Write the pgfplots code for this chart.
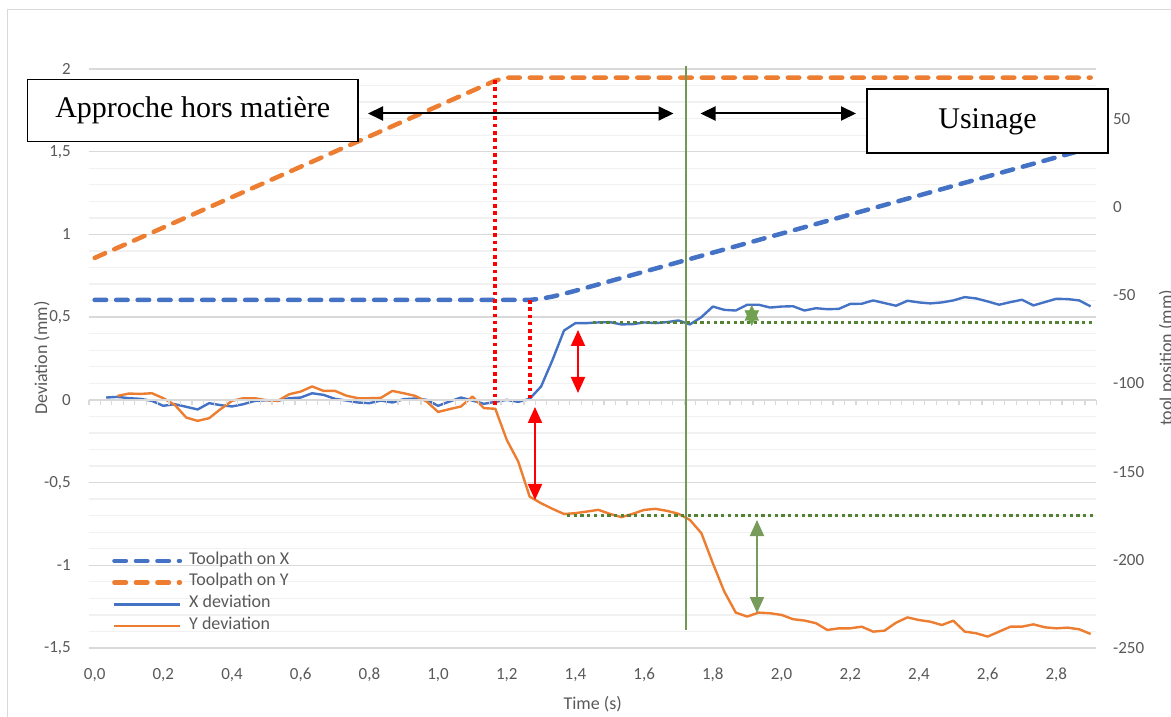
\documentclass[border=0pt]{standalone}
\usepackage{fontspec}
\setmainfont{Carlito}
\newfontfamily\boxfont{Liberation Serif}
\usepackage{pgfplots}
\usepackage{pgfplotstable}
\pgfplotsset{compat=1.18}
\usetikzlibrary{arrows.meta}

\definecolor{xblue}{RGB}{68,114,196}
\definecolor{yorange}{RGB}{237,125,49}
\definecolor{gridmaj}{RGB}{217,217,217}
\definecolor{gridmin}{RGB}{241,241,241}
\definecolor{txtgray}{RGB}{89,89,89}
\definecolor{vgreen}{RGB}{112,153,82}
\definecolor{dgreen}{RGB}{84,130,53}
\definecolor{agreen}{RGB}{118,155,90}
\definecolor{sgreen}{RGB}{112,160,80}

% category index c (time = c/30 s), deviation in mm
\pgfplotstableread{
c v
1 0.014
2 0.018
3 0.010
4 0.006
5 -0.006
6 -0.036
7 -0.026
8 -0.042
9 -0.058
10 -0.020
11 -0.032
12 -0.040
13 -0.026
14 -0.006
15 -0.002
16 -0.006
17 0.010
18 0.014
19 0.040
20 0.030
21 0.006
22 -0.004
23 -0.016
24 -0.020
25 -0.004
26 -0.016
27 0.004
28 0.008
29 0.000
30 -0.036
31 -0.010
32 0.014
33 -0.004
34 -0.024
35 -0.012
36 0.000
37 -0.012
38 0.006
39 0.081
40 0.242
41 0.419
42 0.464
43 0.464
44 0.468
45 0.470
46 0.456
47 0.458
48 0.468
49 0.464
50 0.470
51 0.480
52 0.456
53 0.500
54 0.564
55 0.544
56 0.540
57 0.575
58 0.575
59 0.558
60 0.564
61 0.566
62 0.540
63 0.554
64 0.548
65 0.550
66 0.580
67 0.581
68 0.601
69 0.585
70 0.569
71 0.599
72 0.589
73 0.583
74 0.589
75 0.601
76 0.621
77 0.613
78 0.595
79 0.575
80 0.591
81 0.605
82 0.571
83 0.591
84 0.611
85 0.609
86 0.601
87 0.565
}\xdev

\pgfplotstableread{
c v
2 0.024
3 0.038
4 0.036
5 0.040
6 0.010
7 -0.030
8 -0.107
9 -0.127
10 -0.111
11 -0.056
12 -0.006
13 0.010
14 0.010
15 -0.002
16 -0.006
17 0.034
18 0.050
19 0.081
20 0.054
21 0.054
22 0.025
23 0.010
24 0.010
25 0.012
26 0.054
27 0.040
28 0.024
29 -0.010
30 -0.073
31 -0.056
32 -0.040
33 0.020
34 -0.050
35 -0.054
36 -0.242
37 -0.373
38 -0.585
39 -0.625
40 -0.659
41 -0.690
42 -0.685
43 -0.675
44 -0.665
45 -0.689
46 -0.709
47 -0.689
48 -0.665
49 -0.659
50 -0.671
51 -0.689
52 -0.726
53 -0.806
54 -0.988
55 -1.159
56 -1.286
57 -1.310
58 -1.286
59 -1.290
60 -1.300
61 -1.326
62 -1.334
63 -1.350
64 -1.391
65 -1.381
66 -1.381
67 -1.371
68 -1.401
69 -1.395
70 -1.347
71 -1.315
72 -1.331
73 -1.341
74 -1.361
75 -1.335
76 -1.401
77 -1.411
78 -1.431
79 -1.401
80 -1.371
81 -1.371
82 -1.357
83 -1.375
84 -1.381
85 -1.377
86 -1.387
87 -1.415
}\ydev

\pgfplotstableread{
c p
0 -52.7
38 -52.7
39 -52.0
40 -50.8
41 -49.2
42 -47.5
87 33.5
}\xpath

\pgfplotstableread{
c p
0 -28.9
35 71.6
36 73.3
87 73.3
}\ypath

\begin{document}
\begin{tikzpicture}
\pgfplotsset{myaxis/.style={at={(88.9pt,68pt)}, anchor=south west, scale only axis,
  width=1007.6pt, height=579pt, xmin=-0.5, xmax=87.5}}

% main (left) axis
\begin{axis}[myaxis, ymin=-1.5, ymax=2,
  axis line style={draw=none},
  major tick length=0pt, minor tick length=0pt,
  tick style={draw=none},
  xtick={0,6,...,84},
  xticklabels={{0,0},{0,2},{0,4},{0,6},{0,8},{1,0},{1,2},{1,4},{1,6},{1,8},{2,0},{2,2},{2,4},{2,6},{2,8}},
  ytick={-1.5,-1,...,2},
  yticklabels={{-1,5},{-1},{-0,5},{0},{0,5},{1},{1,5},{2}},
  minor y tick num=4,
  ymajorgrids, yminorgrids,
  major grid style={draw=gridmaj, line width=1.3pt},
  minor grid style={draw=gridmin, line width=1.3pt},
  ticklabel style={font=\fontsize{17}{20}\selectfont, text=txtgray, inner sep=0pt},
  xticklabel style={anchor=base, yshift=-31pt},
  yticklabel style={anchor=east, xshift=-17.9pt},
]
\addplot[xblue, line width=2.4pt, line join=round] table[x=c, y=v] {\xdev};
\addplot[yorange, line width=2.4pt, line join=round] table[x=c, y=v] {\ydev};
\addplot[only marks, mark=triangle*, mark size=8pt, sgreen, mark options={yscale=1.25}, forget plot] coordinates {(57.4,0.51)};
\addplot[only marks, mark=triangle*, mark size=8pt, sgreen, mark options={yscale=1.25, rotate=180}, forget plot] coordinates {(57.4,0.51)};
\end{axis}

% horizontal axis line at zero with category tick marks
\begin{axis}[myaxis, ymin=-1.5, ymax=2,
  axis x line*=middle, axis y line=none,
  xtick={-0.5,0.5,...,87.5}, xticklabels={},
  tick align=outside, major tick length=5pt,
  x axis line style={draw=gridmaj, line width=1.3pt},
  xtick style={draw=gridmaj, line width=1.2pt},
]
\end{axis}

% secondary (right) axis: tool position
\begin{axis}[myaxis, ymin=-250, ymax=78.2,
  axis y line*=right, axis x line=none,
  y axis line style={draw=none},
  ytick style={draw=none}, major tick length=0pt,
  ytick={-250,-200,...,50},
  yticklabels={{-250},{-200},{-150},{-100},{-50},{0},{50}},
  yticklabel style={font=\fontsize{17}{20}\selectfont, text=txtgray, inner sep=0pt, anchor=west, xshift=16.5pt},
  legend style={draw=none, fill=none, at={(0.0229,0.1675)}, anchor=north west,
    font=\fontsize{18}{21}\selectfont, text=txtgray, inner sep=0pt,
    row sep=4.7pt, column sep=7pt,
    nodes={inner sep=0pt, text height=13pt, text depth=4pt}},
  legend cell align=left,
  legend image code/.code={\draw[#1] (2.25pt,-1.2pt) -- (67.75pt,-1.2pt);},
]
\addplot[xblue, line width=4.5pt, line cap=round, dash pattern=on 11.5pt off 10pt] table[x=c, y=p] {\xpath};
\addlegendentry{Toolpath on X}
\addplot[yorange, line width=4.5pt, line cap=round, dash pattern=on 11.5pt off 10pt] table[x=c, y=p] {\ypath};
\addlegendentry{Toolpath on Y}
\addlegendimage{xblue, line width=2.4pt}
\addlegendentry{X deviation}
\addlegendimage{yorange, line width=2.4pt}
\addlegendentry{Y deviation}
\end{axis}

% annotations and titles, in pixel coordinates of the reference (y downward)
\begin{scope}[x=1pt, y=-1pt, shift={(0pt,716pt)}]
\draw[gridmaj, line width=1.5pt] (7.5,9.5) rectangle (1190,730);
% axis titles
\node[rotate=90, anchor=base, font=\fontsize{18}{21}\selectfont, text=txtgray] at (47,358) {Deviation (mm)};
\node[rotate=90, anchor=base, font=\fontsize{18}{21}\selectfont, text=txtgray] at (1172,358) {tool position (mm)};
\node[anchor=base, font=\fontsize{18}{21}\selectfont, text=txtgray] at (592.7,709) {Time (s)};
% red dotted guides
\draw[red, line width=3.5pt, dash pattern=on 3.6pt off 3.7pt] (495,80) -- (495,408);
\draw[red, line width=3.5pt, dash pattern=on 3.6pt off 3.7pt] (530,300) -- (530,398);
% green dotted levels
\draw[dgreen, line width=3pt, dash pattern=on 3.3pt off 3.4pt] (593,322.3) -- (1094,322.3);
\draw[dgreen, line width=3pt, dash pattern=on 3.3pt off 3.4pt] (567,515) -- (1095,515);
% green vertical
\draw[vgreen, line width=2.2pt] (686,66) -- (686,630);
% double arrows
\draw[red, line width=2pt, {Triangle[length=16pt,width=14pt]}-{Triangle[length=16pt,width=14pt]}] (535,407) -- (535,500);
\draw[red, line width=2pt, {Triangle[length=16pt,width=14pt]}-{Triangle[length=16pt,width=14pt]}] (578,330) -- (578,393);
\draw[agreen, line width=2pt, {Triangle[length=16pt,width=14pt]}-{Triangle[length=16pt,width=14pt]}] (757,520) -- (757,613);
\draw[black, line width=2pt, {Triangle[length=15pt,width=14pt]}-{Triangle[length=15pt,width=14pt]}] (368,113.5) -- (673.5,113.5);
\draw[black, line width=2pt, {Triangle[length=15pt,width=14pt]}-{Triangle[length=15pt,width=14pt]}] (700.5,113.5) -- (856,113.5);
% text boxes
\draw[black, line width=1.8pt, fill=white] (27.5,79.5) rectangle (358,141.5);
\node[anchor=base, font=\boxfont\fontsize{30}{36}\selectfont] at (192.7,118) {Approche hors matière};
\draw[black, line width=1.8pt, fill=white] (867,89) rectangle (1108,153);
\node[anchor=base, font=\boxfont\fontsize{30}{36}\selectfont] at (987.5,129) {Usinage};
\end{scope}

\pgfresetboundingbox
\path[use as bounding box] (0pt,0pt) rectangle (1171pt,716pt);
\end{tikzpicture}
\end{document}
